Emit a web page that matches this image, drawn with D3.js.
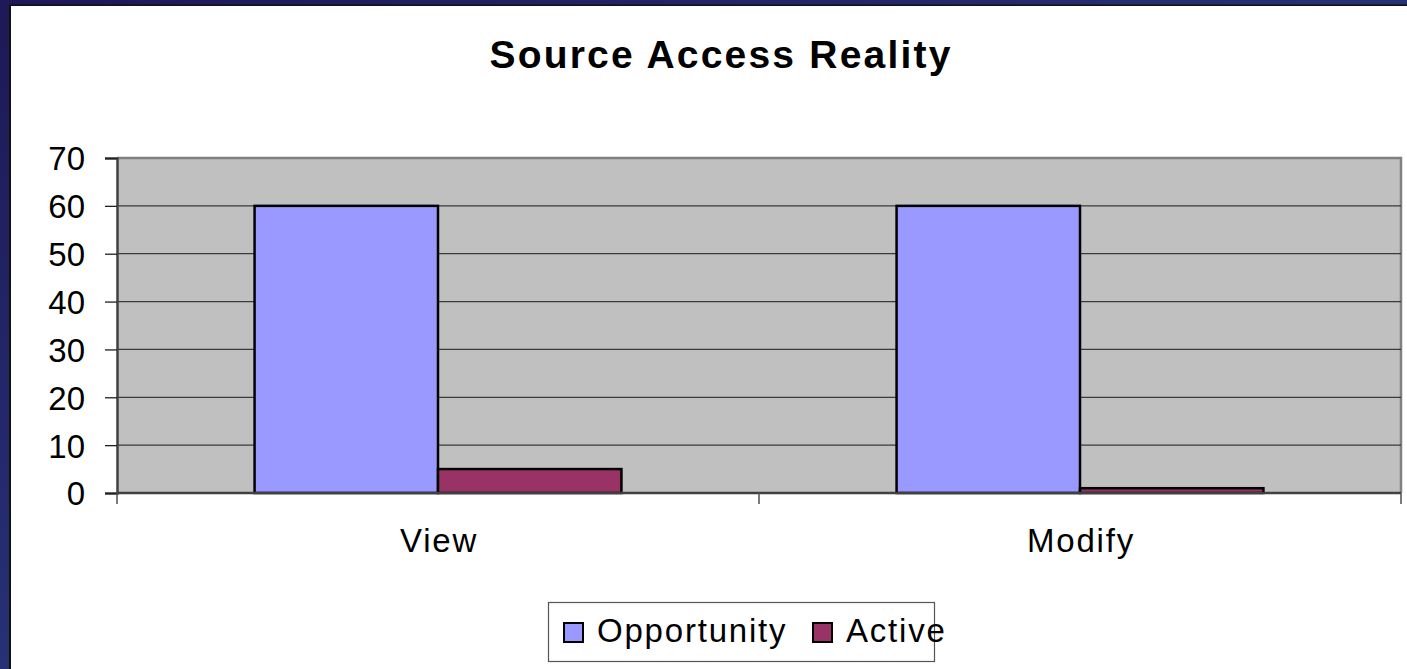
<!DOCTYPE html>
<html>
<head>
<meta charset="utf-8">
<script src="https://cdn.jsdelivr.net/npm/d3@7"></script>
<style>
  html, body { margin: 0; padding: 0; background: #fff; }
  svg { display: block; }
  text { font-family: "Liberation Sans", Arial, sans-serif; fill: #000; }
</style>
</head>
<body>
<svg id="chart" width="1407" height="669"></svg>
<script>
// chart data
var title = "Source Access Reality";
var categories = ["View", "Modify"];
var seriesNames = ["Opportunity", "Active"];
var seriesColors = ["#9999ff", "#993366"];
var opportunity = [60, 60];
var active = [5, 1];
var yTicks = [0, 10, 20, 30, 40, 50, 60, 70];

var W = 1407, H = 669;
var m = { left: 117, top: 158, right: 1401, bottom: 493 };

var svg = d3.select("#chart");

// slide background: dark blue frame on the left and top
var defs = svg.append("defs");
var grad = defs.append("linearGradient").attr("id", "frame").attr("x1", 0).attr("y1", 0).attr("x2", 1).attr("y2", 1);
grad.append("stop").attr("offset", "0%").attr("stop-color", "#1e1856");
grad.append("stop").attr("offset", "100%").attr("stop-color", "#2f4a94");
svg.append("rect").attr("width", W).attr("height", H).attr("fill", "url(#frame)");
svg.append("rect").attr("x", 9).attr("y", 4.5).attr("width", W).attr("height", H).attr("fill", "#111");
svg.append("rect").attr("x", 11).attr("y", 6).attr("width", W).attr("height", H).attr("fill", "#fff");

var x0 = d3.scaleBand().domain(categories).range([m.left, m.right]).padding(0);
var x1 = d3.scaleBand().domain(seriesNames).range([0, x0.bandwidth()]).paddingInner(0).paddingOuter(0.75);
var y = d3.scaleLinear().domain([0, 70]).range([m.bottom, m.top]);

// plot area
svg.append("rect")
  .attr("x", m.left).attr("y", m.top)
  .attr("width", m.right - m.left).attr("height", m.bottom - m.top)
  .attr("fill", "#c0c0c0");
svg.append("path")
  .attr("d", "M" + m.left + "," + m.top + "H" + m.right + "V" + m.bottom)
  .attr("fill", "none").attr("stroke", "#808080").attr("stroke-width", 2.5);

// gridlines
svg.append("g").selectAll("line").data(yTicks.filter(function (d) { return d > 0 && d < 70; })).enter()
  .append("line")
  .attr("x1", m.left).attr("x2", m.right)
  .attr("y1", function (d) { return y(d); }).attr("y2", function (d) { return y(d); })
  .attr("stroke", "#3a3a3a").attr("stroke-width", 1.3);

// bars
var values = [opportunity, active];
var bars = [];
categories.forEach(function (c, i) {
  seriesNames.forEach(function (s, j) {
    bars.push({ cat: c, series: s, color: seriesColors[j], value: values[j][i] });
  });
});
svg.append("g").selectAll("rect").data(bars).enter()
  .append("rect")
  .attr("x", function (d) { return x0(d.cat) + x1(d.series); })
  .attr("y", function (d) { return y(d.value); })
  .attr("width", x1.bandwidth())
  .attr("height", function (d) { return y(0) - y(d.value); })
  .attr("fill", function (d) { return d.color; })
  .attr("stroke", "#000").attr("stroke-width", 2.5);

// y axis
var yAxis = d3.axisLeft(y).tickValues(yTicks).tickSize(12).tickPadding(20);
var gy = svg.append("g").attr("transform", "translate(" + m.left + ",0)").call(yAxis);
gy.select(".domain").attr("stroke", "#404040").attr("stroke-width", 2.5);
gy.selectAll(".tick line").attr("stroke", "#202020").attr("stroke-width", 1.3);
gy.selectAll(".tick text").attr("font-size", 33).attr("font-family", "Liberation Sans, Arial, sans-serif")
  .attr("fill", "#000").attr("dy", "0.36em");

// x axis
var gx = svg.append("g").attr("transform", "translate(0," + m.bottom + ")");
gx.append("line").attr("x1", m.left).attr("x2", m.right).attr("stroke", "#404040").attr("stroke-width", 2.5);
var xTickPos = categories.map(function (c) { return x0(c); }).concat([m.right]);
gx.selectAll("line.tk").data(xTickPos).enter().append("line").attr("class", "tk")
  .attr("x1", function (d) { return d; }).attr("x2", function (d) { return d; })
  .attr("y1", 0).attr("y2", 11)
  .attr("stroke", "#505050").attr("stroke-width", 1.5);
gx.selectAll("text").data(categories).enter().append("text")
  .attr("x", function (d) { return x0(d) + x0.bandwidth() / 2 + 1; })
  .attr("y", 59)
  .attr("text-anchor", "middle")
  .attr("font-size", 33).attr("letter-spacing", 1.8)
  .text(function (d) { return d; });

// title
svg.append("text")
  .attr("x", 721).attr("y", 68)
  .attr("text-anchor", "middle")
  .attr("font-size", 39).attr("font-weight", "bold").attr("letter-spacing", 2.2)
  .text(title);

// legend
var lg = svg.append("g");
lg.append("rect").attr("x", 548.5).attr("y", 602.5).attr("width", 386).attr("height", 59)
  .attr("fill", "#fff").attr("stroke", "#555").attr("stroke-width", 1.2);
var legendX = [563, 812];
var items = lg.selectAll("g.item").data(seriesNames).enter().append("g").attr("class", "item")
  .attr("transform", function (d, i) { return "translate(" + legendX[i] + ",0)"; });
items.append("rect").attr("x", 1).attr("y", 623).attr("width", 19).attr("height", 19)
  .attr("fill", function (d, i) { return seriesColors[i]; })
  .attr("stroke", "#000").attr("stroke-width", 2);
items.append("text").attr("x", 34).attr("y", 642)
  .attr("font-size", 33).attr("letter-spacing", 1.8)
  .text(function (d) { return d; });
</script>
</body>
</html>
